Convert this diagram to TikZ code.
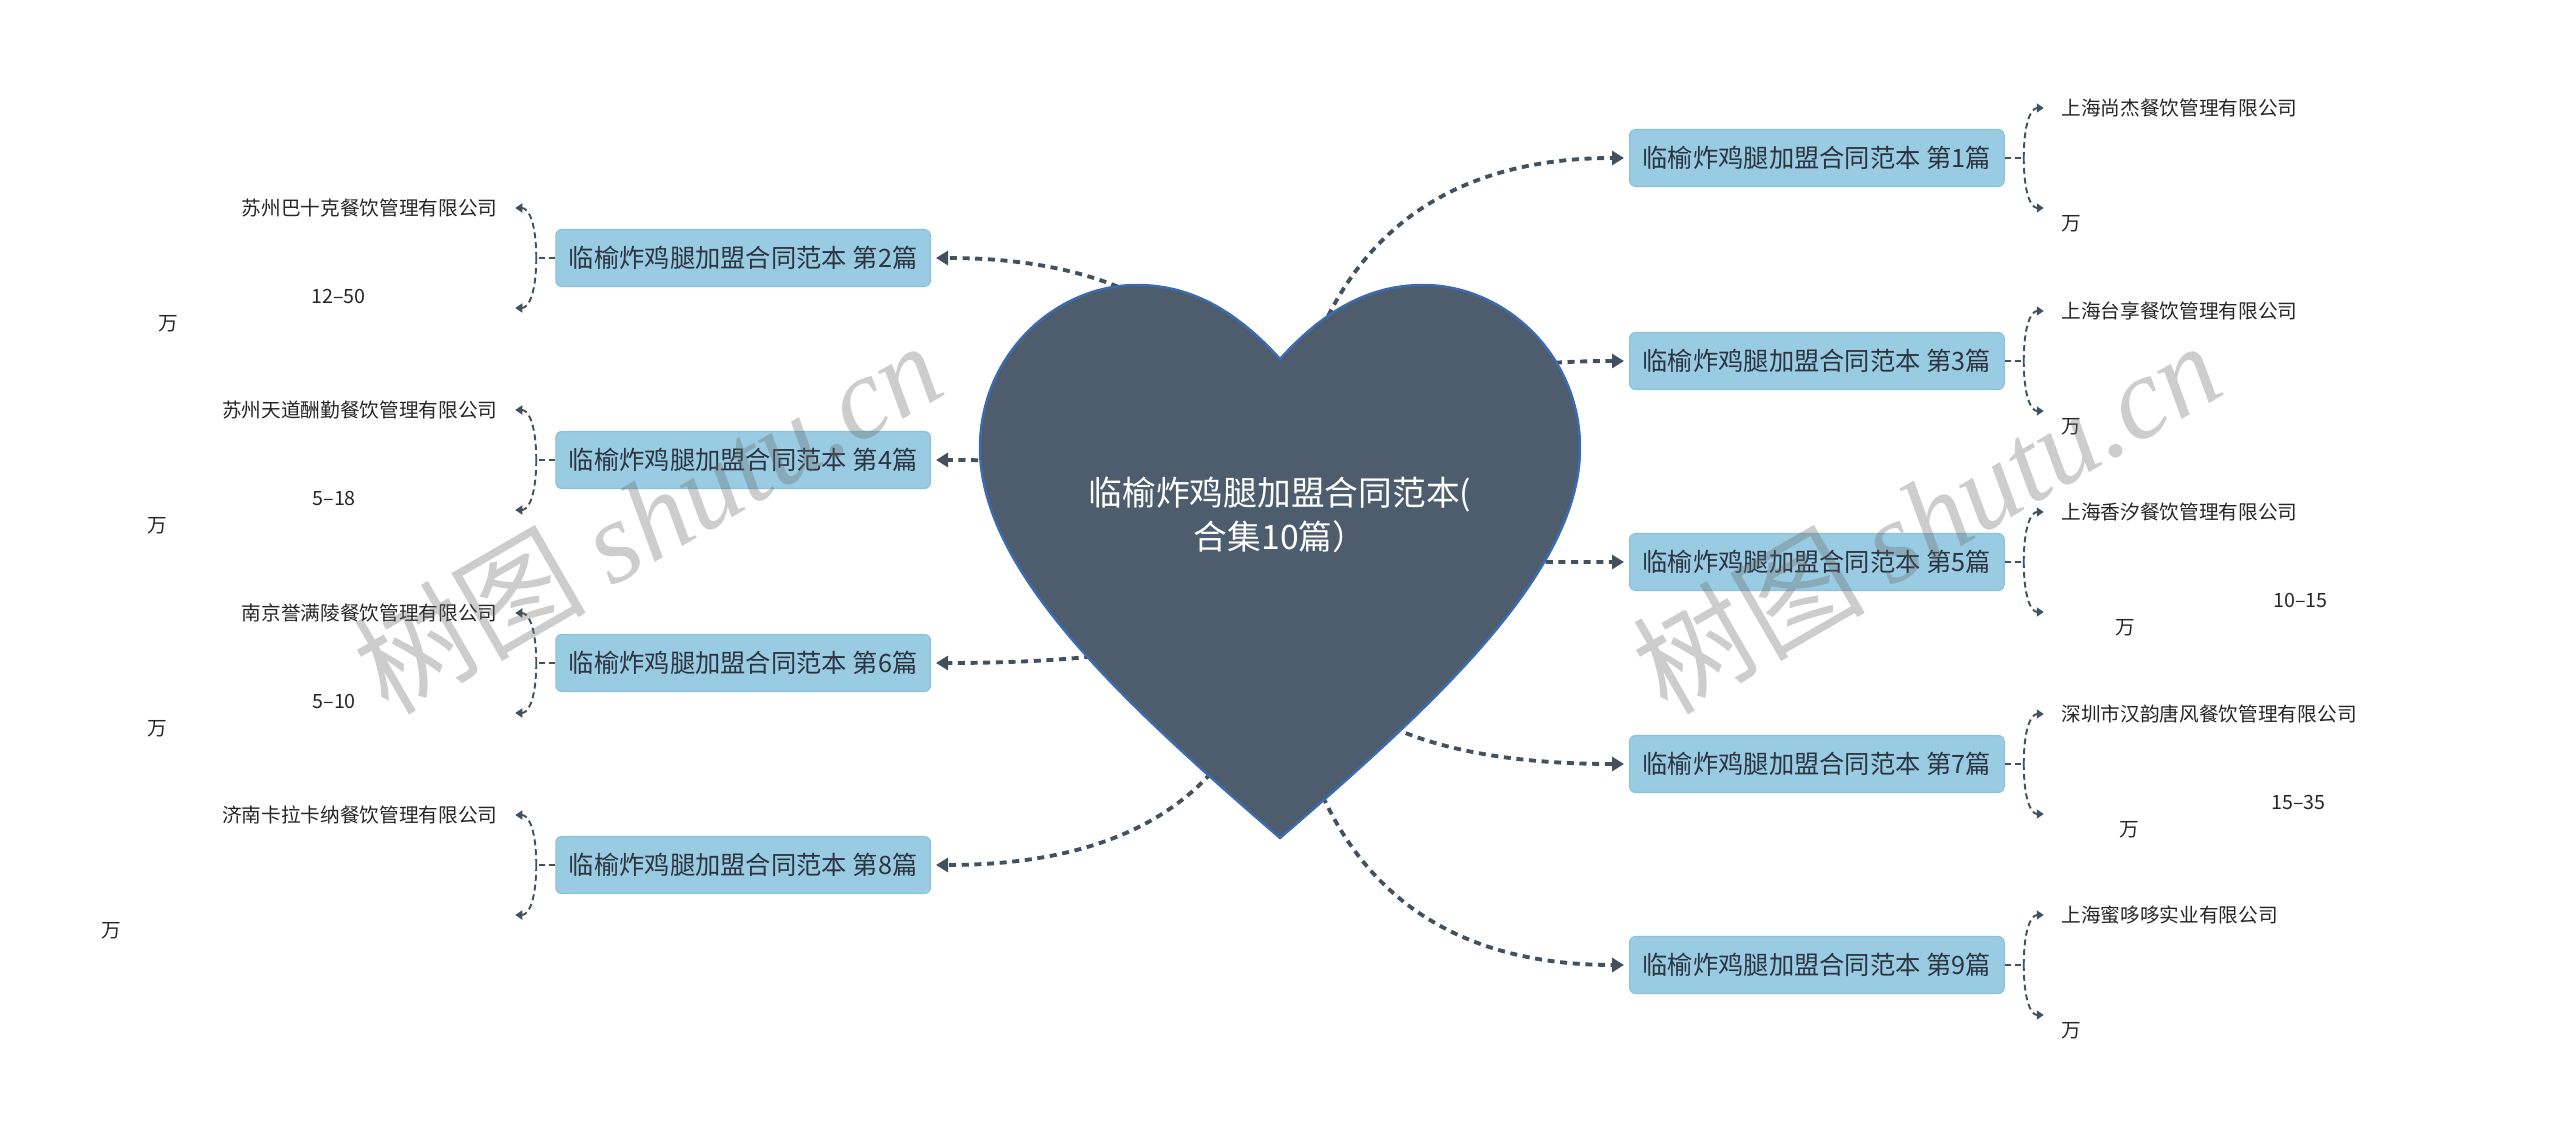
\documentclass[tikz,border=0pt]{standalone}
\usepackage{fontspec}
\setmainfont{Noto Sans CJK SC}
\newfontfamily\markfont{Liberation Serif Italic}
\usetikzlibrary{arrows.meta,positioning,calc}

\definecolor{heartfill}{HTML}{4D5D6E}
\definecolor{heartline}{HTML}{3D6BB0}
\definecolor{boxfill}{HTML}{99CCE3}
\definecolor{boxline}{HTML}{8AC1DB}
\definecolor{linkcol}{HTML}{43505E}
\definecolor{textcol}{HTML}{2C3440}

\begin{document}
\begin{tikzpicture}[
    font=\fontsize{7.2pt}{8.6pt}\selectfont,
    topic/.style={fill=boxfill, draw=boxline, line width=0.3pt, rounded corners=0.06cm,
      text=textcol, minimum height=0.57cm, inner xsep=0.13cm, inner ysep=0pt},
    leaf/.style={font=\fontsize{5.6pt}{7.7pt}\selectfont, text=black!85,
      inner xsep=0.17cm, inner ysep=0.02cm, align=left},
    link/.style={-{Triangle[length=0.12cm,width=0.14cm]}, draw=linkcol, line width=1.1pt,
      dash pattern=on 2pt off 1.6pt, shorten >=0.05cm},
    twig/.style={-{Triangle[length=0.07cm,width=0.09cm]}, draw=linkcol, line width=0.55pt,
      dash pattern=on 1.7pt off 1.1pt},
    stub/.style={draw=linkcol, line width=0.55pt, dash pattern=on 1.7pt off 1.1pt},
    elbow/.style={to path={.. controls ($(\tikztostart)!2/3!(\tikztostart |- \tikztotarget)$)
      and ($(\tikztotarget)!2/3!(\tikztostart |- \tikztotarget)$) .. (\tikztotarget)}},
    watermark/.style={rotate=30, text=black!60, opacity=0.33,
      font=\fontsize{33pt}{33pt}\selectfont}
  ]
    \useasboundingbox (0,0) rectangle (25.60,-11.38);
    \coordinate (root) at (12.80,-5.62);

    % topics, right side
    \node[topic, anchor=west] (b1) at (16.29,-1.58) {临榆炸鸡腿加盟合同范本 第1篇};
    \node[topic, anchor=west] (b3) at (16.29,-3.61) {临榆炸鸡腿加盟合同范本 第3篇};
    \node[topic, anchor=west] (b5) at (16.29,-5.62) {临榆炸鸡腿加盟合同范本 第5篇};
    \node[topic, anchor=west] (b7) at (16.29,-7.64) {临榆炸鸡腿加盟合同范本 第7篇};
    \node[topic, anchor=west] (b9) at (16.29,-9.65) {临榆炸鸡腿加盟合同范本 第9篇};
    % topics, left side
    \node[topic, anchor=east] (b2) at (9.31,-2.58) {临榆炸鸡腿加盟合同范本 第2篇};
    \node[topic, anchor=east] (b4) at (9.31,-4.60) {临榆炸鸡腿加盟合同范本 第4篇};
    \node[topic, anchor=east] (b6) at (9.31,-6.63) {临榆炸鸡腿加盟合同范本 第6篇};
    \node[topic, anchor=east] (b8) at (9.31,-8.65) {临榆炸鸡腿加盟合同范本 第8篇};

    % links from the heart
    \draw[link, elbow] (root) to (b1.west);
    \draw[link, elbow] (root) to (b3.west);
    \draw[link, elbow] (root) to (b5.west);
    \draw[link, elbow] (root) to (b7.west);
    \draw[link, elbow] (root) to (b9.west);
    \draw[link, elbow] (root) to (b2.east);
    \draw[link, elbow] (root) to (b4.east);
    \draw[link, elbow] (root) to (b6.east);
    \draw[link, elbow] (root) to (b8.east);

    % heart
    \filldraw[fill=heartfill, draw=heartline, line width=0.7pt]
      (12.80,-3.59) .. controls (12.40,-3.15) and (11.95,-2.85) .. (11.37,-2.85)
      .. controls (10.55,-2.85) and (9.80,-3.55) .. (9.80,-4.48)
      .. controls (9.80,-5.70) and (11.20,-7.00) .. (12.80,-8.38)
      .. controls (14.40,-7.00) and (15.80,-5.70) .. (15.80,-4.48)
      .. controls (15.80,-3.55) and (15.05,-2.85) .. (14.23,-2.85)
      .. controls (13.65,-2.85) and (13.20,-3.15) .. (12.80,-3.59) -- cycle;
    \node[text=white, align=center, font=\fontsize{9.6pt}{12.5pt}\selectfont] (title)
      at (12.80,-5.15) {临榆炸鸡腿加盟合同范本(\\合集10篇）};

    % leaves, right side
    \coordinate (j1) at ($(b1.east)+(0.19,0)$);
    \coordinate (j3) at ($(b3.east)+(0.19,0)$);
    \coordinate (j5) at ($(b5.east)+(0.19,0)$);
    \coordinate (j7) at ($(b7.east)+(0.19,0)$);
    \coordinate (j9) at ($(b9.east)+(0.19,0)$);
    \node[leaf, anchor=west] (l1a) at ($(j1)+(0.20,0.50)$) {上海尚杰餐饮管理有限公司};
    \node[leaf, anchor=west] (l1b) at ($(j1)+(0.20,-0.50)$) {\strut\\万};
    \node[leaf, anchor=west] (l3a) at ($(j3)+(0.20,0.50)$) {上海台享餐饮管理有限公司};
    \node[leaf, anchor=west] (l3b) at ($(j3)+(0.20,-0.50)$) {\strut\\万};
    \node[leaf, anchor=west] (l5a) at ($(j5)+(0.20,0.50)$) {上海香汐餐饮管理有限公司};
    \node[leaf, anchor=west] (l5b) at ($(j5)+(0.20,-0.50)$) {\strut\hspace*{2.12cm}10–15\\\hspace*{0.54cm}万};
    \node[leaf, anchor=west] (l7a) at ($(j7)+(0.20,0.50)$) {深圳市汉韵唐风餐饮管理有限公司};
    \node[leaf, anchor=west] (l7b) at ($(j7)+(0.20,-0.50)$) {\strut\hspace*{2.10cm}15–35\\\hspace*{0.58cm}万};
    \node[leaf, anchor=west] (l9a) at ($(j9)+(0.20,0.50)$) {上海蜜哆哆实业有限公司};
    \node[leaf, anchor=west] (l9b) at ($(j9)+(0.20,-0.50)$) {\strut\\万};

    % leaves, left side
    \coordinate (j2) at ($(b2.west)+(-0.19,0)$);
    \coordinate (j4) at ($(b4.west)+(-0.19,0)$);
    \coordinate (j6) at ($(b6.west)+(-0.19,0)$);
    \coordinate (j8) at ($(b8.west)+(-0.19,0)$);
    \node[leaf, anchor=east] (l2a) at ($(j2)+(-0.21,0.50)$) {苏州巴十克餐饮管理有限公司};
    \node[leaf, anchor=east, text width=3.39cm] (l2b) at ($(j2)+(-0.21,-0.50)$) {\strut\hspace*{1.53cm}12–50\\万};
    \node[leaf, anchor=east] (l4a) at ($(j4)+(-0.21,0.50)$) {苏州天道酬勤餐饮管理有限公司};
    \node[leaf, anchor=east, text width=3.50cm] (l4b) at ($(j4)+(-0.21,-0.50)$) {\strut\hspace*{1.65cm}5–18\\万};
    \node[leaf, anchor=east] (l6a) at ($(j6)+(-0.21,0.50)$) {南京誉满陵餐饮管理有限公司};
    \node[leaf, anchor=east, text width=3.50cm] (l6b) at ($(j6)+(-0.21,-0.50)$) {\strut\hspace*{1.65cm}5–10\\万};
    \node[leaf, anchor=east] (l8a) at ($(j8)+(-0.21,0.50)$) {济南卡拉卡纳餐饮管理有限公司};
    \node[leaf, anchor=east, text width=3.96cm] (l8b) at ($(j8)+(-0.21,-0.50)$) {\strut\\万};

    % brackets
    \draw[stub] (b1.east) -- (j1);
    \draw[twig, elbow] (j1) to (l1a.west);
    \draw[twig, elbow] (j1) to (l1b.west);
    \draw[stub] (b3.east) -- (j3);
    \draw[twig, elbow] (j3) to (l3a.west);
    \draw[twig, elbow] (j3) to (l3b.west);
    \draw[stub] (b5.east) -- (j5);
    \draw[twig, elbow] (j5) to (l5a.west);
    \draw[twig, elbow] (j5) to (l5b.west);
    \draw[stub] (b7.east) -- (j7);
    \draw[twig, elbow] (j7) to (l7a.west);
    \draw[twig, elbow] (j7) to (l7b.west);
    \draw[stub] (b9.east) -- (j9);
    \draw[twig, elbow] (j9) to (l9a.west);
    \draw[twig, elbow] (j9) to (l9b.west);
    \draw[stub] (b2.west) -- (j2);
    \draw[twig, elbow] (j2) to (l2a.east);
    \draw[twig, elbow] (j2) to (l2b.east);
    \draw[stub] (b4.west) -- (j4);
    \draw[twig, elbow] (j4) to (l4a.east);
    \draw[twig, elbow] (j4) to (l4b.east);
    \draw[stub] (b6.west) -- (j6);
    \draw[twig, elbow] (j6) to (l6a.east);
    \draw[twig, elbow] (j6) to (l6b.east);
    \draw[stub] (b8.west) -- (j8);
    \draw[twig, elbow] (j8) to (l8a.east);
    \draw[twig, elbow] (j8) to (l8b.east);

    % watermarks
    \node[watermark] (wm1) at (6.47,-5.16) {树图 {\markfont shutu.cn}};
    \node[watermark] (wm2) at (19.26,-5.16) {树图 {\markfont shutu.cn}};
  \end{tikzpicture}
\end{document}
